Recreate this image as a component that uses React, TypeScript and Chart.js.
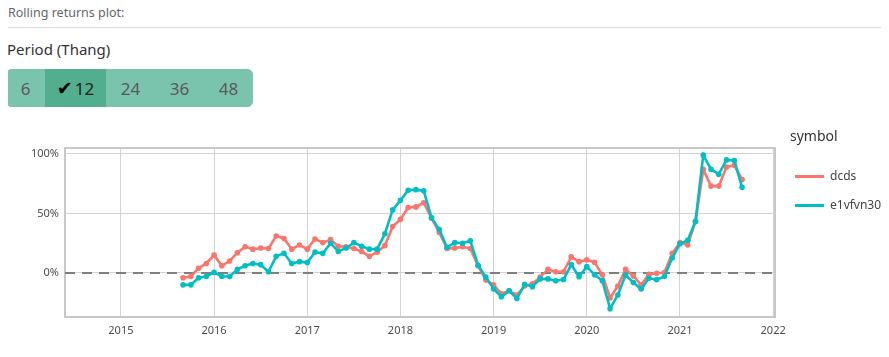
import React, { useEffect, useRef } from "react";
import { Chart, registerables } from "chart.js";

Chart.register(...registerables);

// Month-end observations (year-month)
const months = [
  "2015-08", "2015-09", "2015-10", "2015-11", "2015-12",
  "2016-01", "2016-02", "2016-03", "2016-04", "2016-05", "2016-06", "2016-07", "2016-08", "2016-09", "2016-10", "2016-11", "2016-12",
  "2017-01", "2017-02", "2017-03", "2017-04", "2017-05", "2017-06", "2017-07", "2017-08", "2017-09", "2017-10", "2017-11", "2017-12",
  "2018-01", "2018-02", "2018-03", "2018-04", "2018-05", "2018-06", "2018-07", "2018-08", "2018-09", "2018-10", "2018-11", "2018-12",
  "2019-01", "2019-02", "2019-03", "2019-04", "2019-05", "2019-06", "2019-07", "2019-08", "2019-09", "2019-10", "2019-11", "2019-12",
  "2020-01", "2020-02", "2020-03", "2020-04", "2020-05", "2020-06", "2020-07", "2020-08", "2020-09", "2020-10", "2020-11", "2020-12",
  "2021-01", "2021-02", "2021-03", "2021-04", "2021-05", "2021-06", "2021-07", "2021-08",
];

// Rolling 12-month returns, %
const dcds = [
  -4, -3, 4, 8, 15,
  6, 10, 17, 22, 20, 21, 20.5, 31, 29, 20, 23.5, 20,
  28.5, 25.5, 28, 22.5, 22, 20.5, 18, 14, 17.5, 23, 39, 45,
  55, 55.5, 59, 46, 34, 20.5, 21, 22, 20.5, 6, -6, -10,
  -17.5, -15, -18.5, -11, -9, -3.5, 3, 1, 1, 13.5, 9.5, 11,
  9, -1.5, -21, -11, 3, -2.5, -10, -1.2, -0.3, 0.3, 16.5, 25.5,
  23.5, 43, 87, 73, 73, 89, 90.5, 78.5,
];

const e1vfvn30 = [
  -10, -10, -4, -3, 0.5,
  -3, -3, 3, 6, 8, 7, 1, 14, 16.5, 8, 9.5, 8.7,
  17.5, 16.5, 25, 18, 21, 25.5, 22.5, 20, 20, 33, 53, 61,
  69.5, 70, 69, 46.5, 36.5, 21.5, 25.5, 25, 27, 6.5, -3.5, -13.5,
  -20, -15, -21.5, -9.5, -11.5, -5, -5, -6.5, -5.6, 7, -3.2, 5.3,
  -1.4, -6.5, -30, -18.5, -1.7, -8, -13.5, -4.5, -5.6, -3, 12.6, 24.5,
  27.5, 43.5, 99, 87, 83, 95, 94.5, 72,
];

const xTickYears = [2015, 2016, 2017, 2018, 2019, 2020, 2021, 2022];
const yTickValues = [0, 50, 100];
const periods = ["6", "12", "24", "36", "48"];
const activePeriod = "12";
const seriesNames = ["dcds", "e1vfvn30"];
const seriesColors = ["#F8766D", "#00BFC4"];

const FONT = "'Noto Sans', 'Open Sans', sans-serif";

function monthToYear(s: string): number {
  const [y, m] = s.split("-").map(Number);
  return y + m / 12;
}

const framePlugin = {
  id: "frameAndZero",
  beforeDatasetsDraw(chart: any) {
    const { ctx, chartArea, scales } = chart;
    const { left, right, top, bottom } = chartArea;
    const y0 = scales.y.getPixelForValue(0);
    ctx.save();
    ctx.strokeStyle = "#c8c8c8";
    ctx.lineWidth = 2;
    ctx.strokeRect(left, top, right - left, bottom - top);
    ctx.strokeStyle = "#7f7f7f";
    ctx.lineWidth = 2;
    ctx.setLineDash([10, 7]);
    ctx.beginPath();
    ctx.moveTo(left, y0);
    ctx.lineTo(right, y0);
    ctx.stroke();
    ctx.restore();
  },
};

function RollingChart() {
  const ref = useRef<HTMLCanvasElement | null>(null);
  useEffect(() => {
    if (!ref.current) return;
    const xs = months.map(monthToYear);
    const seriesValues = [dcds, e1vfvn30];
    const chart = new Chart(ref.current, {
      type: "line",
      data: {
        datasets: seriesNames.map((name, i) => ({
          label: name,
          data: seriesValues[i].map((v, j) => ({ x: xs[j], y: v })),
          borderColor: seriesColors[i],
          backgroundColor: seriesColors[i],
          pointBackgroundColor: seriesColors[i],
          pointBorderWidth: 0,
          pointRadius: 2.8,
          borderWidth: 2.6,
          tension: 0,
          order: seriesNames.length - i,
        })),
      },
      options: {
        responsive: false,
        animation: false,
        events: [],
        layout: { padding: { left: 0, right: 114, top: 18, bottom: 0 } },
        plugins: {
          legend: { display: false },
          tooltip: { enabled: false },
        },
        scales: {
          x: {
            type: "linear",
            min: 2014.4,
            max: 2022.02,
            afterBuildTicks: (scale: any) => {
              scale.ticks = xTickYears.map((v) => ({ value: v }));
            },
            afterFit: (scale: any) => {
              scale.height = 40;
            },
            ticks: {
              callback: (v: any) => String(v),
              color: "#4d4d4d",
              font: { family: FONT, size: 11 },
              padding: 7,
              maxRotation: 0,
              autoSkip: false,
            },
            grid: { color: "#d3d3d3", lineWidth: 1, drawTicks: false, tickLength: 0 },
            border: { display: false },
          },
          y: {
            type: "linear",
            min: -37,
            max: 105,
            afterBuildTicks: (scale: any) => {
              scale.ticks = yTickValues.map((v) => ({ value: v }));
            },
            afterFit: (scale: any) => {
              scale.width = 65;
            },
            ticks: {
              callback: (v: any) => v + "%",
              color: "#4d4d4d",
              font: { family: FONT, size: 11 },
              padding: 6,
            },
            grid: { color: "#d3d3d3", lineWidth: 1, drawTicks: false, tickLength: 0 },
            border: { display: false },
          },
        },
      },
      plugins: [framePlugin],
    } as any);
    return () => chart.destroy();
  }, []);
  return (
    <canvas
      ref={ref}
      width={889}
      height={227}
      style={{ position: "absolute", left: 0, top: 130, width: 889, height: 227 }}
    />
  );
}

export default function App() {
  const widths = [39, 61, 49, 49, 49];
  return (
    <div
      style={{
        position: "relative",
        margin: -8,
        width: 889,
        height: 357,
        overflow: "hidden",
        background: "#fff",
        fontFamily: FONT,
      }}
    >
      <div
        style={{
          position: "absolute",
          left: 0,
          top: 0,
          width: 889,
          height: 28,
          borderBottom: "1px solid #dcdcdc",
          boxSizing: "border-box",
        }}
      >
        <div style={{ position: "absolute", left: 8, top: 5, fontSize: 12.5, color: "#666", lineHeight: "16px" }}>
          Rolling returns plot:
        </div>
      </div>
      <div style={{ position: "absolute", left: 7, top: 39, fontSize: 15, color: "#333", lineHeight: "20px" }}>
        Period (Thang)
      </div>
      <div
        style={{
          position: "absolute",
          left: 6,
          top: 69,
          height: 38,
          display: "flex",
          borderRadius: 6,
          overflow: "hidden",
          background: "#7ac3ac",
        }}
      >
        {periods.map((p, i) => {
          const active = p === activePeriod;
          return (
            <div
              key={p}
              style={{
                width: widths[i],
                height: 38,
                display: "flex",
                alignItems: "center",
                justifyContent: "center",
                background: active ? "#53ae8f" : "#7ac3ac",
                color: active ? "#222" : "#5a5a5a",
                fontSize: 17,
              }}
            >
              {active && (
                <span style={{ fontFamily: "'DejaVu Sans'", color: "#000", fontSize: 19, marginRight: 2 }}>✔</span>
              )}
              {p}
            </div>
          );
        })}
      </div>
      <RollingChart />
      <div style={{ position: "absolute", left: 790, top: 127, fontSize: 14, color: "#333", lineHeight: "18px" }}>
        symbol
      </div>
      {seriesNames.map((name, i) => (
        <div key={name} style={{ position: "absolute", left: 795, top: 168 + i * 29, height: 16, display: "flex", alignItems: "center" }}>
          <div style={{ width: 29, height: 3, background: seriesColors[i] }} />
          <div style={{ marginLeft: 6, fontSize: 12, color: "#444", lineHeight: "16px" }}>{name}</div>
        </div>
      ))}
    </div>
  );
}
